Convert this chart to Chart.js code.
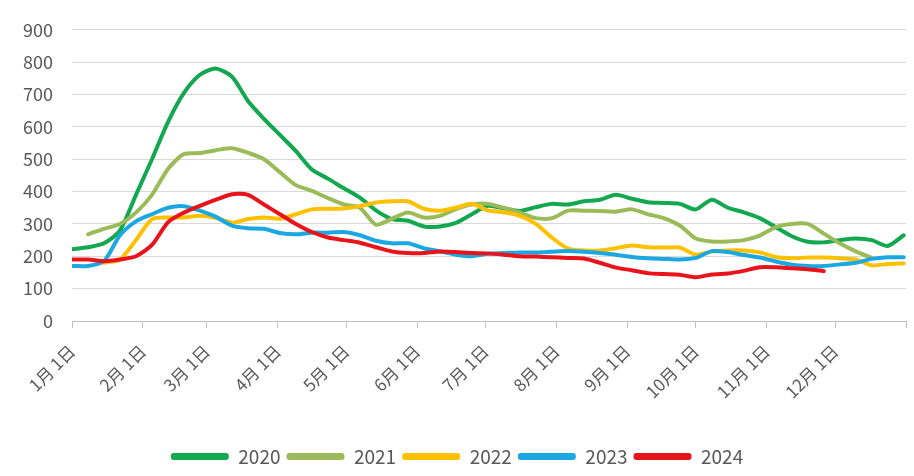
<!DOCTYPE html>
<html>
<head>
<meta charset="utf-8">
<script src="https://cdn.jsdelivr.net/npm/chart.js@4.4.1/dist/chart.umd.min.js"></script>
<style>
  body { margin: 0; background: #fff; }
</style>
</head>
<body>
<canvas id="mycanvas" width="914" height="476"></canvas>
<script>
// weekly points, x = day of year
var days = [0, 7, 14, 21, 28, 35, 42, 49, 56, 63, 70, 77, 84, 91, 98, 105, 112, 119, 126, 133,
  140, 147, 154, 161, 168, 175, 182, 189, 196, 203, 210, 217, 224, 231, 238, 245, 252, 259, 266,
  273, 280, 287, 294, 301, 308, 315, 322, 329, 336, 343, 350, 357, 364];

var monthDays = [0, 31, 59, 90, 120, 151, 181, 212, 243, 273, 304, 334, 365];
var monthLabels = ["1月 1日", "2月 1日", "3月 1日", "4月 1日", "5月 1日", "6月 1日", "7月 1日", "8月 1日",
  "9月 1日", "10月 1日", "11月 1日", "12月 1日", ""];

var years = ["2020", "2021", "2022", "2023", "2024"];

var v2020 = [222, 228, 240, 280, 390, 500, 615, 705, 761, 780, 755, 680, 625, 575, 525, 468, 440, 410,
  381, 342, 315, 310, 292, 292, 303, 330, 356, 348, 340, 352, 362, 360, 370, 375, 390, 378, 367, 365,
  362, 345, 375, 350, 336, 318, 290, 262, 245, 243, 250, 255, 250, 232, 265];
var v2021 = [null, 268, 285, 300, 335, 390, 470, 516, 519, 528, 534, 520, 500, 460, 420, 402, 380, 360,
  350, 298, 316, 335, 320, 325, 346, 360, 362, 350, 335, 318, 318, 341, 341, 340, 338, 345, 330, 318,
  295, 255, 246, 246, 250, 264, 290, 300, 300, 270, 240, 215, 195, null, null];
var v2022 = [null, null, 180, 190, 250, 315, 320, 320, 325, 318, 304, 315, 320, 316, 330, 345, 347, 348,
  355, 366, 370, 370, 347, 341, 350, 362, 342, 336, 325, 300, 258, 224, 218, 218, 225, 233, 228, 227,
  227, 205, 215, 218, 218, 212, 198, 194, 196, 196, 194, 190, 172, 176, 178];
var v2023 = [170, 170, 185, 265, 308, 330, 350, 355, 341, 322, 295, 287, 285, 272, 268, 273, 273, 275,
  265, 248, 240, 240, 225, 215, 205, 200, 208, 210, 212, 212, 214, 216, 214, 210, 205, 198, 194, 192,
  190, 195, 216, 213, 204, 196, 184, 174, 170, 170, 175, 180, 192, 197, 197];
var v2024 = [190, 190, 185, 190, 200, 235, 305, 335, 356, 375, 392, 390, 360, 330, 300, 275, 258, 250,
  242, 228, 215, 210, 210, 215, 213, 210, 209, 205, 200, 199, 197, 195, 193, 180, 165, 157, 148, 145,
  143, 135, 144, 147, 155, 166, 166, 163, 160, 154, null, null, null, null, null];

var colors = ["#13A850", "#9BBB59", "#FFC000", "#1AA7E2", "#E8141B"];
var series = [v2020, v2021, v2022, v2023, v2024];

function points(vals) {
  var out = [];
  for (var i = 0; i < days.length; i++) {
    out.push({ x: days[i], y: vals[i] });
  }
  return out;
}

var datasets = [];
for (var i = 0; i < years.length; i++) {
  datasets.push({
    label: years[i],
    data: points(series[i]),
    borderColor: colors[i],
    backgroundColor: colors[i],
    borderWidth: 4,
    pointRadius: 0,
    tension: 0.25,
    borderJoinStyle: "round",
    borderCapStyle: "round",
    order: years.length - i
  });
}

var font = "'Noto Sans CJK SC', 'Noto Sans', sans-serif";

var ctx = document.getElementById("mycanvas");
var chart = new Chart(ctx, {
  type: "line",
  data: { datasets: datasets },
  options: {
    responsive: false,
    animation: false,
    layout: { padding: { top: 28, right: 0, left: 0, bottom: 0 } },
    plugins: {
      tooltip: { enabled: false },
      legend: {
        position: "bottom",
        labels: {
          color: "#595959",
          font: { family: font, size: 19 },
          boxWidth: 58,
          boxHeight: 7,
          padding: 6,
          useBorderRadius: true,
          borderRadius: 3,
          sort: function(a, b) { return a.datasetIndex - b.datasetIndex; },
          generateLabels: function(c) {
            var items = Chart.defaults.plugins.legend.labels.generateLabels(c);
            items.forEach(function(it) { it.lineWidth = 0; });
            return items;
          }
        }
      }
    },
    scales: {
      x: {
        type: "linear",
        min: 0,
        max: 365,
        afterBuildTicks: function(scale) {
          scale.ticks = monthDays.map(function(d) { return { value: d }; });
        },
        afterFit: function(scale) {
          scale.height = 120;
          scale.paddingRight = 8;
        },
        ticks: {
          autoSkip: false,
          maxRotation: 45,
          minRotation: 45,
          color: "#595959",
          font: { family: font, size: 17 },
          padding: 13,
          callback: function(value) {
            var idx = monthDays.indexOf(value);
            return idx >= 0 ? monthLabels[idx] : "";
          }
        },
        grid: { drawOnChartArea: false, drawTicks: true, tickLength: 7, color: "#bfbfbf" },
        border: { color: "#bfbfbf" }
      },
      y: {
        min: 0,
        max: 900,
        afterFit: function(scale) { scale.width = 72; },
        ticks: {
          stepSize: 100,
          color: "#595959",
          font: { family: font, size: 18 },
          padding: 19
        },
        grid: { color: "#d9d9d9", drawTicks: false },
        border: { display: false }
      }
    }
  }
});
</script>
</body>
</html>
